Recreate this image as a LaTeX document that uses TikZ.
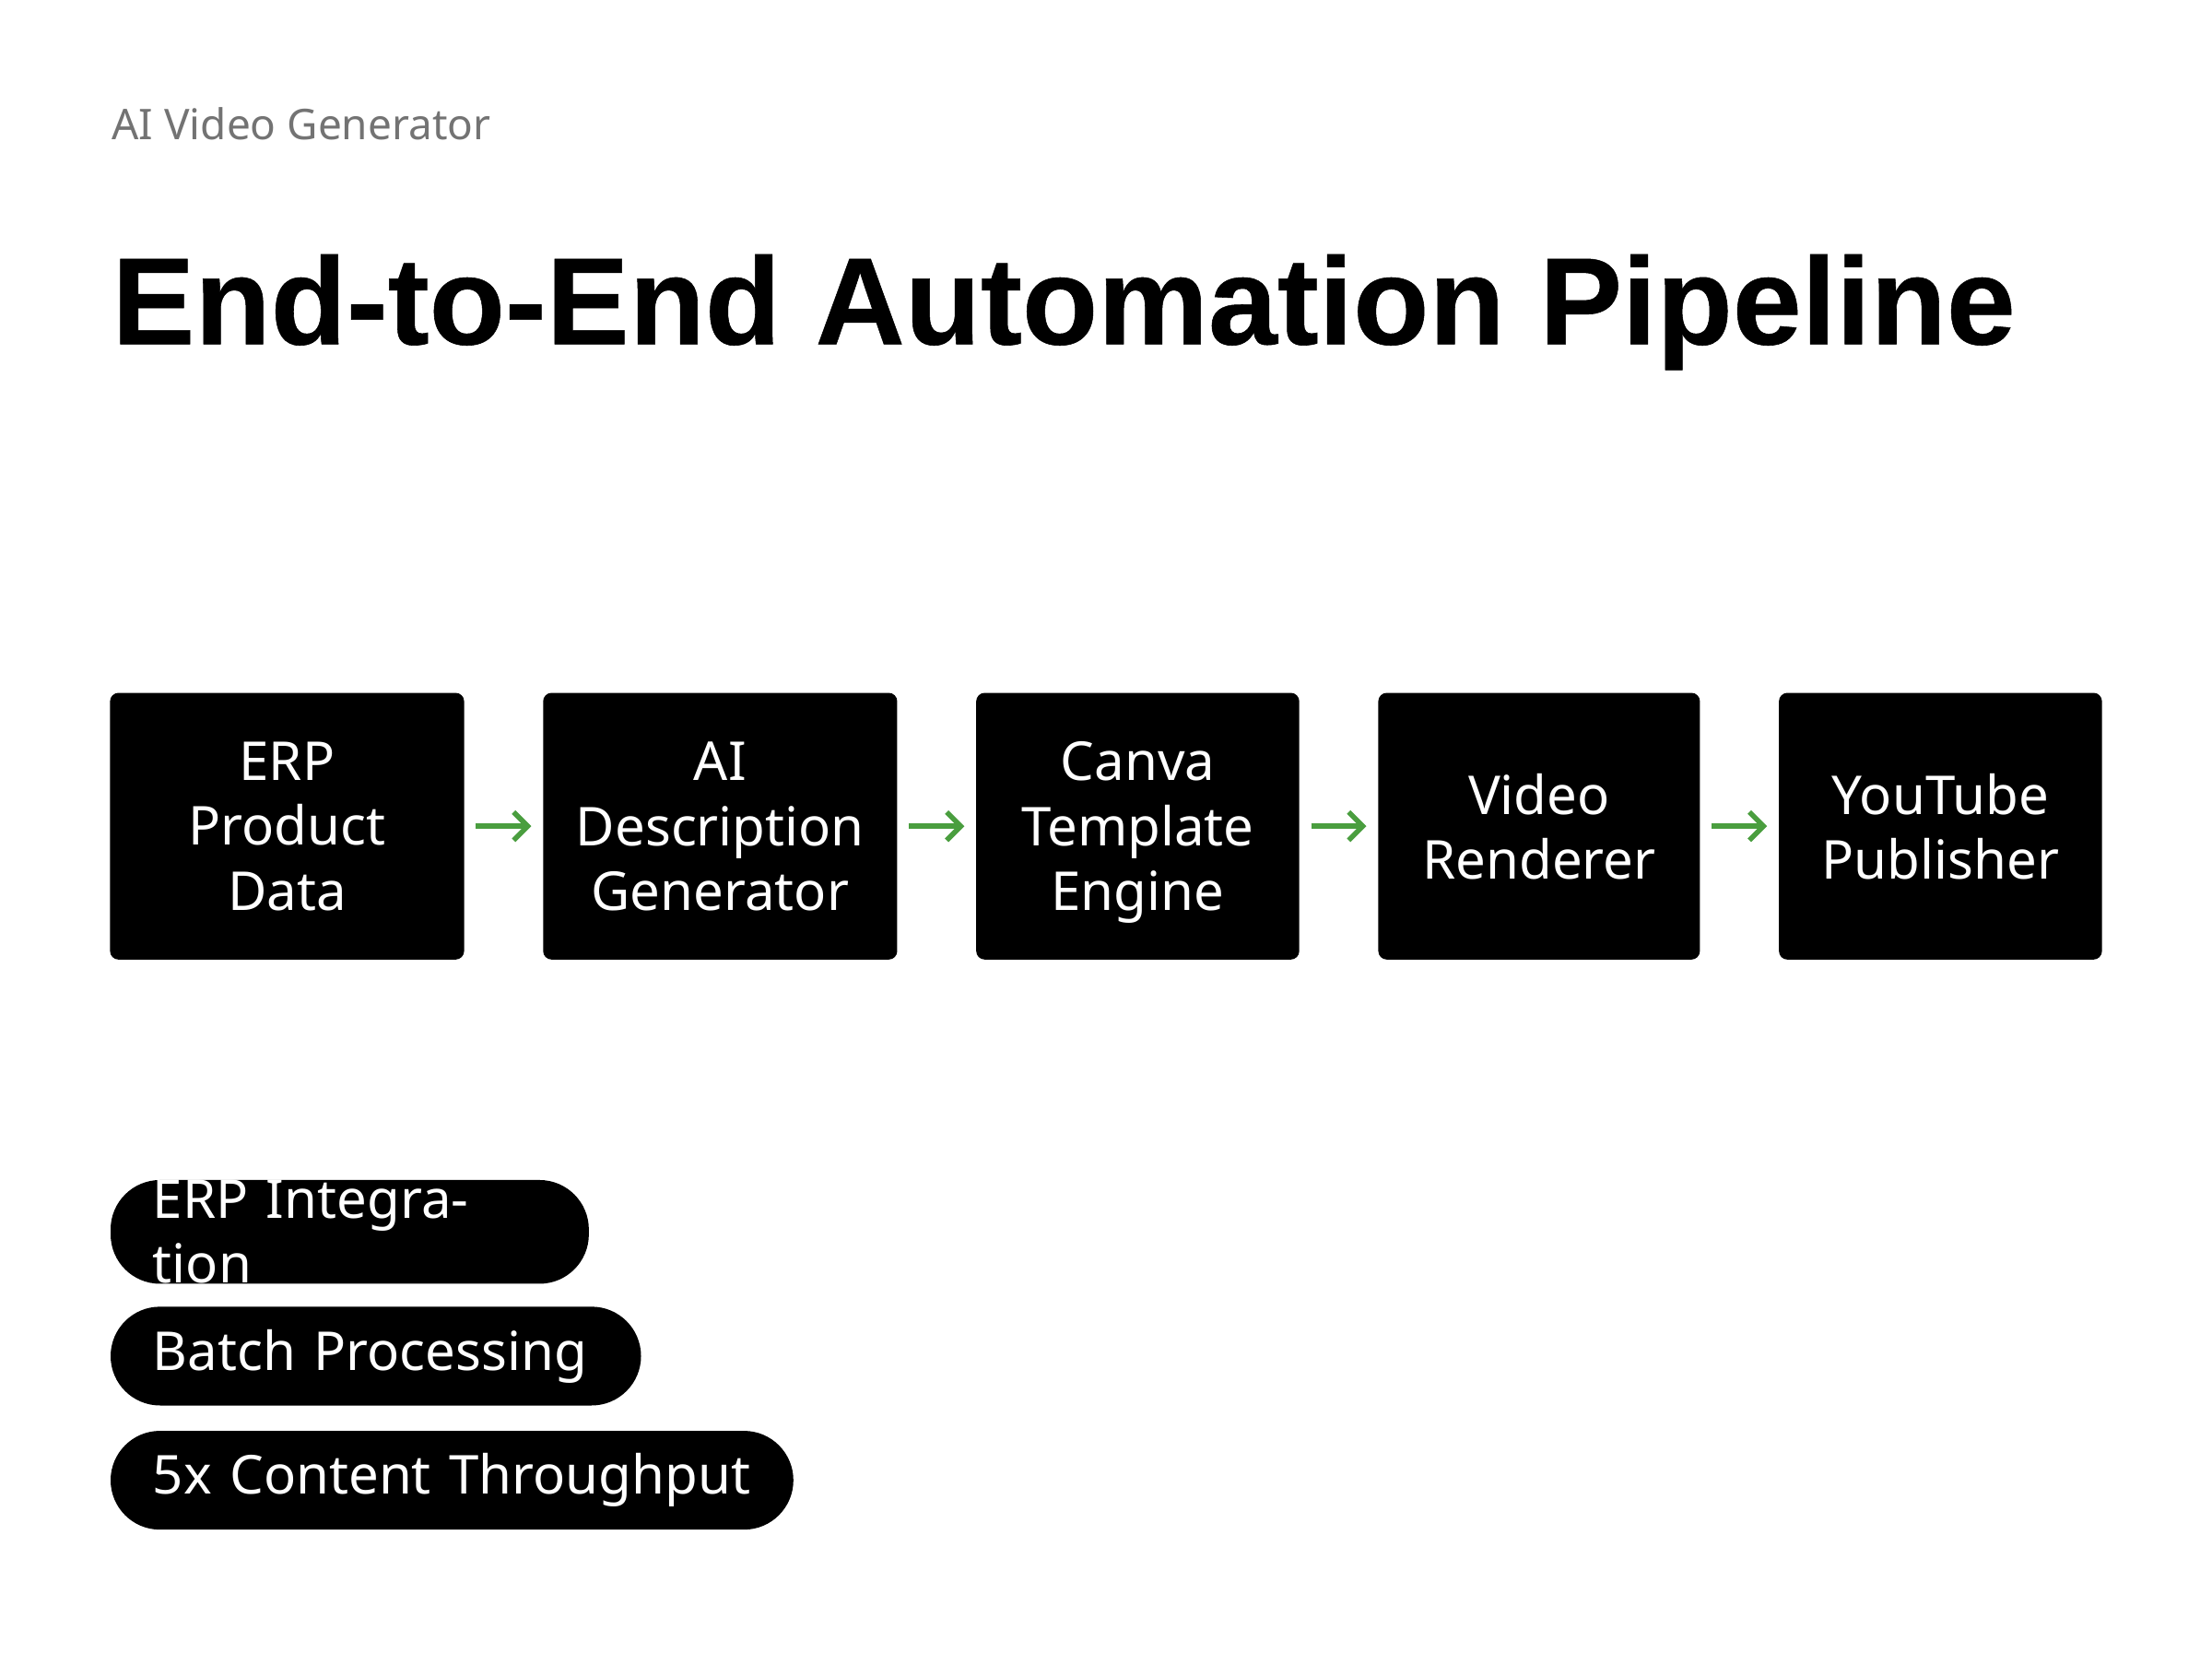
\documentclass[tikz,border=0pt]{standalone}
\usepackage{fontspec}
\setmainfont{Noto Sans}
\newfontfamily\ttlfont{Liberation Sans}[FakeBold=0.4]
\usetikzlibrary{arrows.meta}
\definecolor{arrg}{HTML}{4A9E3F}
\begin{document}
\begin{tikzpicture}[x=0.5pt,y=-0.5pt,
  box/.style={fill=black,rounded corners=3pt,text=white,align=center,font=\fontsize{19}{23}\selectfont,inner sep=0pt,text depth=0pt},
  pill/.style={fill=black,rounded corners=17.5pt,text=white,font=\fontsize{19}{23}\selectfont,inner xsep=15pt,inner ysep=0pt,minimum height=35pt,anchor=west,align=left},
  arr/.style={draw=arrg,line width=1.8pt,->,>={Straight Barb[length=5pt,width=10pt]}}]
\fill[white] (0,0) rectangle (1568,1171);
\node[anchor=base west,text=black!55,font=\fontsize{15}{18}\selectfont,inner sep=0pt] (sub) at (79,99) {AI Video Generator};
\node[anchor=base west,font=\fontsize{44}{50}\ttlfont\bfseries,inner sep=0pt] (title) at (79,244) {End-to-End Automation Pipeline};
\node[box,minimum width=125.5pt,minimum height=94.5pt] (b1) at (203.5,585.5) {ERP\\Product\\Data};
\node[box,minimum width=125.5pt,minimum height=94.5pt] (b2) at (510.5,585.5) {AI\\Description\\Generator};
\node[box,minimum width=114.5pt,minimum height=94.5pt] (b3) at (806.5,585.5) {Canva\\Template\\Engine};
\node[box,minimum width=114pt,minimum height=94.5pt] (b4) at (1091,585.5) {Video\\Renderer};
\node[box,minimum width=114.5pt,minimum height=94.5pt] (b5) at (1375.5,585.5) {YouTube\\Publisher};
\foreach \a/\b in {b1/b2,b2/b3,b3/b4,b4/b5} \draw[arr] ([xshift=4pt]\a.east) -- ([xshift=-4pt]\b.west);
\node[pill,minimum width=169.5pt,text width=139.5pt] (p1) at (78,873) {ERP Integration};
\node[pill,minimum width=188pt,text width=158pt] (p2) at (78,961) {Batch Processing};
\node[pill,minimum width=242pt,text width=212pt] (p3) at (78,1049) {5x Content Throughput};
\end{tikzpicture}
\end{document}
